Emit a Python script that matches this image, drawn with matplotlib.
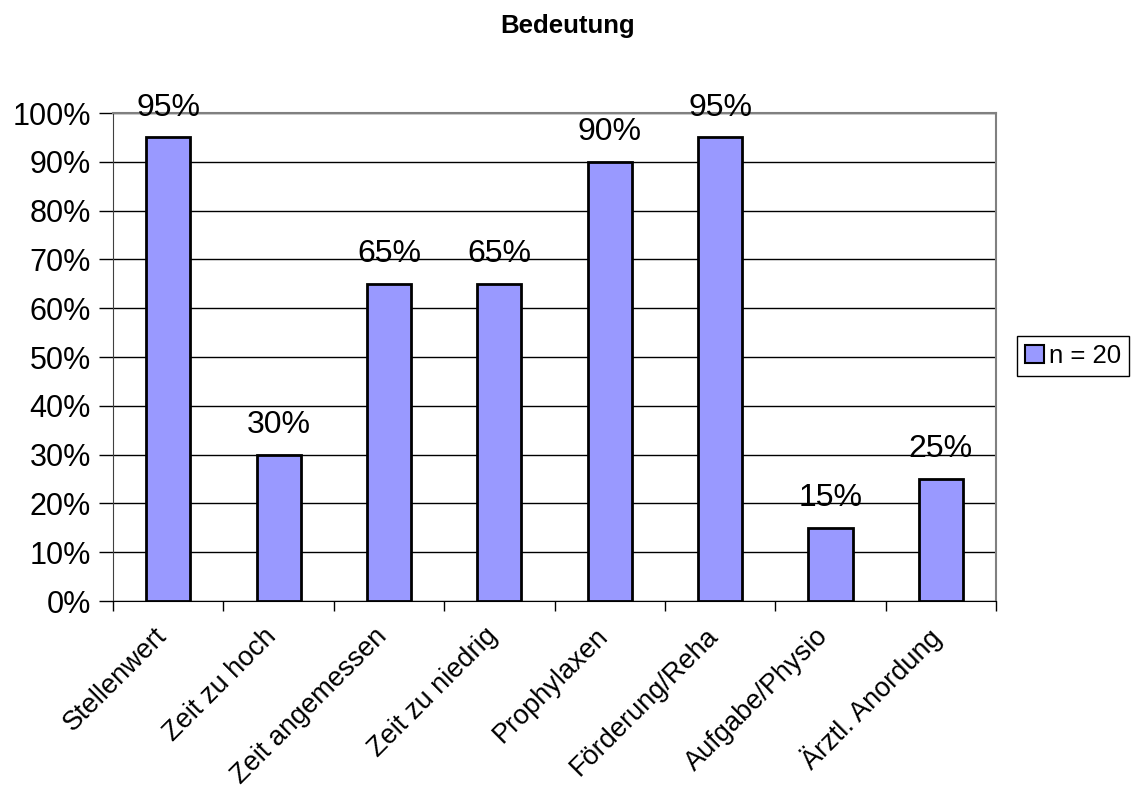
import matplotlib.pyplot as plt
from matplotlib.patches import Patch
from matplotlib.ticker import MultipleLocator, PercentFormatter
from matplotlib.transforms import ScaledTranslation
import numpy as np

plt.rcParams['font.family'] = ['Liberation Sans', 'DejaVu Sans']

categories = ['Stellenwert', 'Zeit zu hoch', 'Zeit angemessen', 'Zeit zu niedrig',
              'Prophylaxen', 'Förderung/Reha', 'Aufgabe/Physio', 'Ärztl. Anordung']
values = [95, 30, 65, 65, 90, 95, 15, 25]
series_name = 'n = 20'
title = 'Bedeutung'

bar_color = '#9999FF'

fig = plt.figure(figsize=(11.35, 7.87), dpi=100)
ax = fig.add_axes([0.0996, 0.2363, 0.778, 0.6201])

x = np.arange(len(categories))
bars = ax.bar(x, values, width=0.4, color=bar_color, edgecolor='black',
              linewidth=2, zorder=3)

# value labels above the bars
for xi, v in zip(x, values):
    ax.annotate(f'{v}%', (xi, v), xytext=(0, 15.5), textcoords='offset points',
                ha='center', va='baseline', fontsize=23, zorder=4)

ax.set_xlim(-0.5, len(categories) - 0.5)
ax.set_ylim(0, 100)
ax.yaxis.set_major_locator(MultipleLocator(10))
ax.yaxis.set_major_formatter(PercentFormatter(decimals=0))
ax.grid(axis='y', color='black', linewidth=1, zorder=0)
ax.set_axisbelow(True)

# category ticks sit between the bars, names are drawn as rotated texts
ax.set_xticks(np.arange(len(categories) + 1) - 0.5)
ax.set_xticklabels([])
ax.tick_params(axis='x', which='major', length=7, width=1, color='black')
ax.tick_params(axis='y', length=10, width=1, labelsize=22, pad=6)

lbl_trans = ax.get_xaxis_transform() + ScaledTranslation(-0.15, -0.22, fig.dpi_scale_trans)
for xi, name in zip(x, categories):
    ax.text(xi, 0, name, transform=lbl_trans, rotation=45, rotation_mode='anchor',
            ha='right', va='top', fontsize=19.5, clip_on=False)

for side in ['top', 'right']:
    ax.spines[side].set_color('#808080')
    ax.spines[side].set_linewidth(1.5)
ax.spines['left'].set_color('#404040')
ax.spines['bottom'].set_color('black')

fig.suptitle(title, fontsize=18.5, fontweight='bold', y=0.958, va='baseline')

handle = Patch(facecolor=bar_color, edgecolor='black', linewidth=1.5)
fig.legend([handle], [series_name], loc='center left',
           bbox_to_anchor=(0.896, 0.5477), fontsize=18.5, frameon=True,
           fancybox=False, edgecolor='black', framealpha=1,
           handlelength=0.75, handleheight=0.75, handletextpad=0.2,
           borderpad=0.3, borderaxespad=0)

fig.savefig('out.png', dpi=100)
